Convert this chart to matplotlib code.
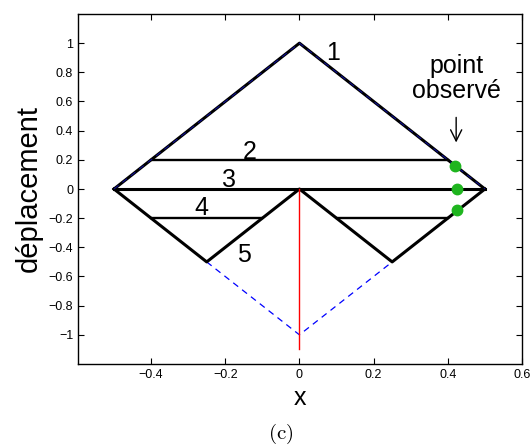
import matplotlib
matplotlib.use("Agg")
import matplotlib.pyplot as plt
import numpy as np

plt.rcParams['font.family'] = ['Liberation Sans', 'DejaVu Sans']
plt.rcParams['mathtext.fontset'] = 'cm'

# Data
tri_x = [-0.5, 0.0, 0.5]          # curve 1 (upper triangle)
tri_y = [0.0, 1.0, 0.0]
low_x = [-0.5, -0.25, 0.0, 0.25, 0.5]   # lower zigzag
low_y = [0.0, -0.5, 0.0, -0.5, 0.0]
dash_x = [-0.25, 0.0, 0.25]       # reflected dashed part
dash_y = [-0.5, -1.0, -0.5]
h2_x = [-0.4, 0.4]; h2_y = [0.2, 0.2]
h3_x = [-0.5, 0.5]; h3_y = [0.0, 0.0]
h4a_x = [-0.4, -0.1]; h4b_x = [0.1, 0.4]; h4_y = [-0.2, -0.2]
red_x = [0.0, 0.0]; red_y = [0.0, -1.1]
obs_x = [0.42, 0.425, 0.425]
obs_y = [0.16, 0.0, -0.145]
curve_labels = ['1', '2', '3', '4', '5']
label_x = [0.09, -0.135, -0.19, -0.265, -0.15]
label_y = [0.93, 0.255, 0.06, -0.13, -0.455]
xticks = [-0.4, -0.2, 0, 0.2, 0.4, 0.6]
xticklabels = ['\u22120.4', '\u22120.2', '0', '0.2', '0.4', '0.6']
yticks = [-1, -0.8, -0.6, -0.4, -0.2, 0, 0.2, 0.4, 0.6, 0.8, 1]
yticklabels = ['\u22121', '\u22120.8', '\u22120.6', '\u22120.4', '\u22120.2', '0', '0.2', '0.4', '0.6', '0.8', '1']

fig = plt.figure(figsize=(5.32, 4.48), dpi=100)
ax = fig.add_axes([78/532, 84/448, 444/532, 350/448])

ax.plot(tri_x, tri_y, color='black', lw=2.2, zorder=2)
ax.plot(low_x, low_y, color='black', lw=2.2, zorder=2)
ax.plot(h2_x, h2_y, color='black', lw=1.7, zorder=2)
ax.plot(h3_x, h3_y, color='black', lw=2.2, zorder=2)
ax.plot(h4a_x, h4_y, color='black', lw=1.7, zorder=2)
ax.plot(h4b_x, h4_y, color='black', lw=1.7, zorder=2)
# blue dashed reference line (drawn over the upper triangle, visible below)
ax.plot(tri_x, tri_y, color='#1010a0', lw=0.7, ls=(0, (6, 5)), zorder=2.5)
ax.plot(dash_x, dash_y, color='blue', lw=0.9, ls=(0, (5, 4)), zorder=1)
ax.plot(red_x, red_y, color='red', lw=1.0, zorder=3)
ax.plot(obs_x, obs_y, 'o', color='#1fb51f', ms=7.5, mec='#1fb51f', zorder=4)

for t, lx, ly in zip(curve_labels, label_x, label_y):
    ax.text(lx, ly, t, fontsize=18, ha='center', va='center')

ax.text(0.4225, 0.76, 'point\nobservé', fontsize=18, ha='center', va='center', linespacing=1.05)
ax.annotate('', xy=(0.4225, 0.30), xytext=(0.4225, 0.51),
            arrowprops=dict(arrowstyle='->', lw=1.0, color='black', mutation_scale=20))

ax.set_xlim(-0.597, 0.6)
ax.set_ylim(-1.2, 1.2)
ax.set_xticks(xticks)
ax.set_xticklabels(xticklabels)
ax.set_yticks(yticks)
ax.set_yticklabels(yticklabels)
ax.tick_params(direction='in', top=True, right=True, length=4, width=0.8, labelsize=9)
for s in ax.spines.values():
    s.set_linewidth(1.0)

ax.set_xlabel('x', fontsize=18, labelpad=4)
ax.set_ylabel('déplacement', fontsize=21, labelpad=4)

fig.text(281/532, 1 - 434/448, r'$\mathrm{(c)}$', fontsize=15, ha='center', va='center')

fig.savefig('out.png', dpi=100)
